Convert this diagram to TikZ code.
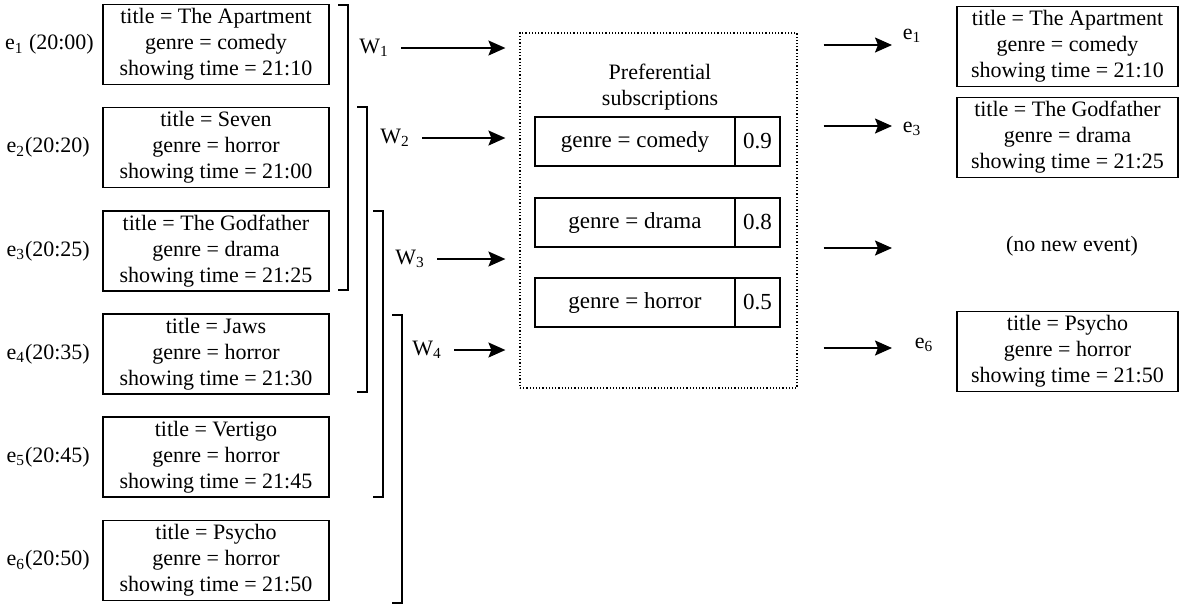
\documentclass[tikz,border=0pt]{standalone}
\usepackage{fontspec}
\setmainfont{Liberation Serif}
\usetikzlibrary{arrows.meta,positioning}

\tikzset{
	event/.style={draw, line width=0.8pt, align=center, minimum width=113pt, minimum height=40pt, inner sep=0pt, font=\fontsize{11}{13}\selectfont},
	tag/.style={font=\fontsize{11}{13}\selectfont, inner sep=1pt},
	subs/.style={draw, line width=0.8pt, minimum height=24.5pt, inner sep=0pt, outer sep=0pt, font=\fontsize{11.5}{13}\selectfont},
	arr/.style={-{Stealth[length=8.5pt,width=7.5pt,inset=1.5pt]}, line width=0.8pt},
	bracket/.style={line width=0.8pt},
}

\begin{document}
\begin{tikzpicture}[x=0.5pt,y=-0.5pt]
		\useasboundingbox (0,0) rectangle (1184,607);
		% incoming events
		\node[event] (ev1) at (216,44.5) {title = The Apartment\\genre = comedy\\showing time = 21:10};
		\node[event] (ev2) at (216,147.5) {title = Seven\\genre = horror\\showing time = 21:00};
		\node[event] (ev3) at (216,251) {title = The Godfather\\genre = drama\\showing time = 21:25};
		\node[event] (ev4) at (216,354) {title = Jaws\\genre = horror\\showing time = 21:30};
		\node[event] (ev5) at (216,457) {title = Vertigo\\genre = horror\\showing time = 21:45};
		\node[event] (ev6) at (216,560.5) {title = Psycho\\genre = horror\\showing time = 21:50};
		\node[tag, left=3pt of ev1] (t1) {e\textsubscript{1} (20:00)};
		\node[tag, left=5pt of ev2] (t2) {e\textsubscript{2}(20:20)};
		\node[tag, left=5pt of ev3] (t3) {e\textsubscript{3}(20:25)};
		\node[tag, left=5pt of ev4] (t4) {e\textsubscript{4}(20:35)};
		\node[tag, left=5pt of ev5] (t5) {e\textsubscript{5}(20:45)};
		\node[tag, left=5pt of ev6] (t6) {e\textsubscript{6}(20:50)};
		% windows
		\foreach \x/\top/\bot in {348/5/290, 367/107/392, 383/211/497, 402/315/603}
			\draw[bracket] (\x-10,\top) -- (\x,\top) -- (\x,\bot) -- (\x-10,\bot);
		\node[tag, anchor=west] (w1) at (357,48) {W\textsubscript{1}};
		\node[tag, anchor=west] (w2) at (378,138) {W\textsubscript{2}};
		\node[tag, anchor=west] (w3) at (393,259) {W\textsubscript{3}};
		\node[tag, anchor=west] (w4) at (410,350) {W\textsubscript{4}};
		% subscriptions
		\node[draw, densely dotted, line width=0.6pt, minimum width=138.5pt, minimum height=177.5pt] (prefs) at (658.5,210.5) {};
		\node[tag, align=center] (ptitle) at (660,87) {Preferential\\subscriptions};
		\node[subs, minimum width=100pt] (s1) at (635,141.5) {genre = comedy};
		\node[subs, minimum width=22.5pt, anchor=west] (v1) at (s1.east) {0.9};
		\node[subs, minimum width=100pt] (s2) at (635,222.5) {genre = drama};
		\node[subs, minimum width=22.5pt, anchor=west] (v2) at (s2.east) {0.8};
		\node[subs, minimum width=100pt] (s3) at (635,302.5) {genre = horror};
		\node[subs, minimum width=22.5pt, anchor=west] (v3) at (s3.east) {0.5};
		\foreach \i in {1,...,4}
			\draw[arr, shorten <=5pt, shorten >=7pt] (w\i.east) -- (w\i.east -| prefs.west);
		% notifications
		\coordinate (o1) at (892,45);
		\coordinate (o2) at (892,126);
		\coordinate (o3) at (892,248);
		\coordinate (o4) at (892,348);
		\foreach \i in {1,...,4}
			\draw[arr, shorten <=13pt] (prefs.east |- o\i) -- (o\i);
		\node[tag] (r1) at (912,36) {e\textsubscript{1}};
		\node[tag] (r3) at (912,129) {e\textsubscript{3}};
		\node[tag] (r6) at (924,345) {e\textsubscript{6}};
		\node[event, minimum width=110.5pt] (out1) at (1067.5,46.5) {title = The Apartment\\genre = comedy\\showing time = 21:10};
		\node[event, minimum width=110.5pt] (out3) at (1067.5,137.5) {title = The Godfather\\genre = drama\\showing time = 21:25};
		\node[tag] (none) at (1072,246) {(no new event)};
		\node[event, minimum width=110.5pt] (out6) at (1067.5,351.5) {title = Psycho\\genre = horror\\showing time = 21:50};
\end{tikzpicture}
\end{document}
